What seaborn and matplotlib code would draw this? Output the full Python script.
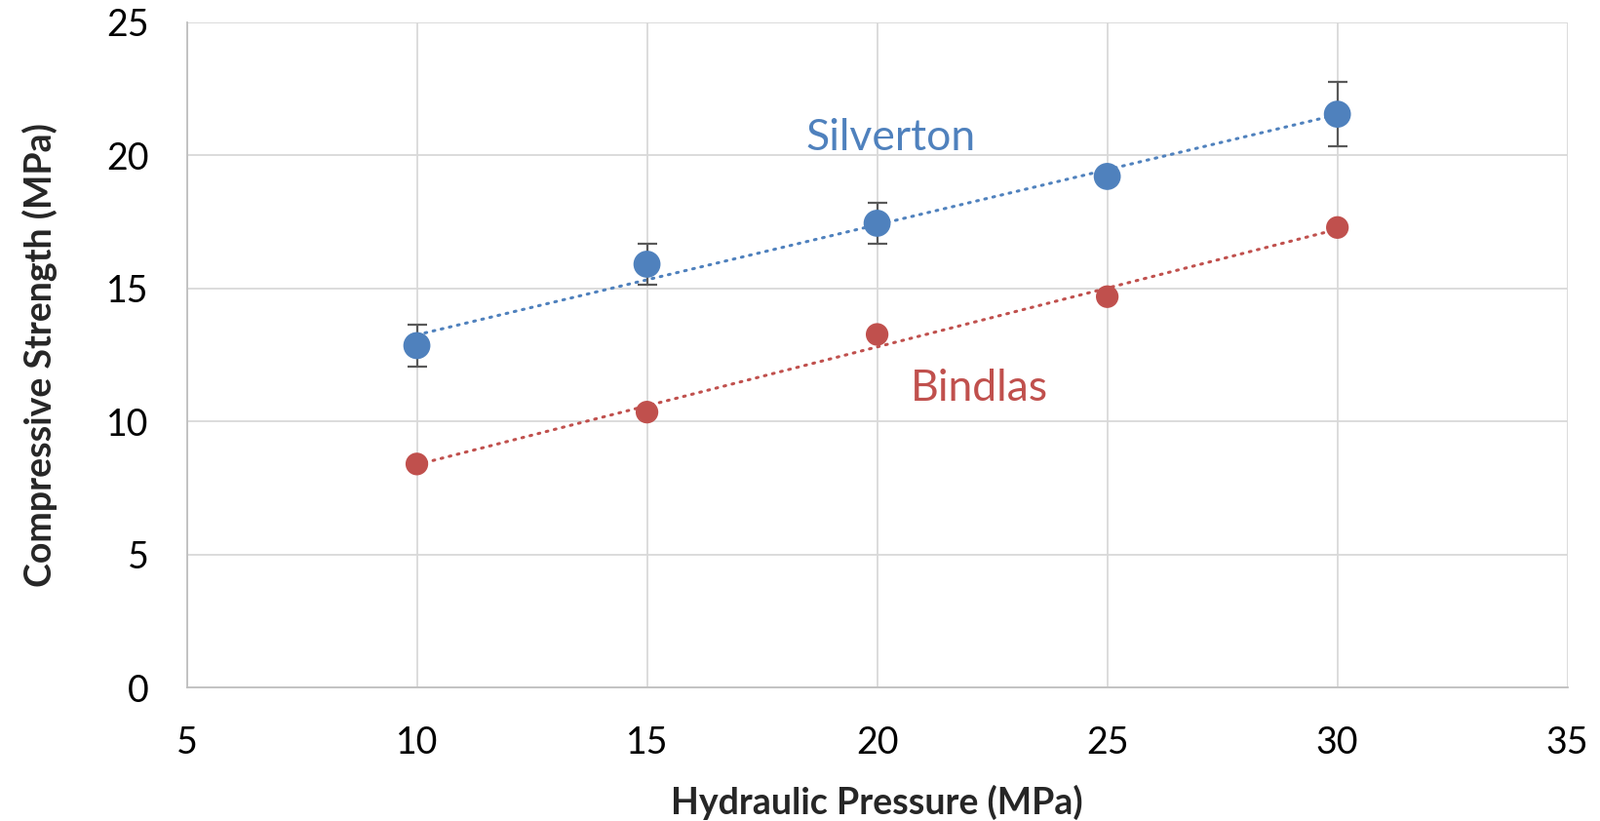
import numpy as np
import pandas as pd
import matplotlib
matplotlib.use("Agg")
import matplotlib.pyplot as plt
import seaborn as sns

pressure = [10, 15, 20, 25, 30]
silverton = [12.85, 15.91, 17.45, 19.21, 21.55]
silverton_err = [0.80, 0.78, 0.78, 0.30, 1.20]
bindlas = [8.40, 10.35, 13.27, 14.69, 17.29]
x_ticks = [5, 10, 15, 20, 25, 30, 35]
y_ticks = [0, 5, 10, 15, 20, 25]

blue = "#4F81BD"
red = "#C0504D"

sns.set_theme(style="white")
plt.rcParams["font.family"] = ["Lato", "DejaVu Sans"]

fig = plt.figure(figsize=(16.41, 8.42), dpi=100)
ax = fig.add_axes([0.1167, 0.1627, 0.863, 0.81])

df_s = pd.DataFrame({"x": pressure, "y": silverton})
df_b = pd.DataFrame({"x": pressure, "y": bindlas})

# trend lines
sns.regplot(data=df_s, x="x", y="y", scatter=False, ci=None, ax=ax,
            line_kws=dict(color=blue, lw=2.2, ls=(0, (0.6, 2.2)), dash_capstyle="round", zorder=2))
sns.regplot(data=df_b, x="x", y="y", scatter=False, ci=None, ax=ax,
            line_kws=dict(color=red, lw=2.2, ls=(0, (0.6, 2.2)), dash_capstyle="round", zorder=2))

# error bars
ax.errorbar(pressure, silverton, yerr=silverton_err, fmt="none", ecolor="#595959",
            elinewidth=1.6, capsize=7, capthick=1.6, zorder=3)

sns.scatterplot(data=df_s, x="x", y="y", ax=ax, color=blue, s=400, edgecolor="none", zorder=4)
sns.scatterplot(data=df_b, x="x", y="y", ax=ax, color=red, s=280, edgecolor="none", zorder=4)

ax.text(20.3, 20.67, "Silverton", color=blue, fontsize=32, ha="center", va="center")
ax.text(22.23, 11.23, "Bindlas", color=red, fontsize=32, ha="center", va="center")

ax.set_xlim(5, 35)
ax.set_ylim(0, 25)
ax.set_xticks(x_ticks)
ax.set_yticks(y_ticks)
ax.grid(True, color="#D9D9D9", lw=1.3)
ax.set_axisbelow(True)
for s in ["top", "right"]:
    ax.spines[s].set_visible(False)
for s in ["left", "bottom"]:
    ax.spines[s].set_color("#BFBFBF")
    ax.spines[s].set_linewidth(1.3)
ax.tick_params(axis="both", length=0, labelsize=27, colors="black")
ax.tick_params(axis="x", pad=28)
ax.tick_params(axis="y", pad=28)

ax.set_xlabel("Hydraulic Pressure (MPa)", fontsize=27, fontweight="bold", labelpad=18)
ax.set_ylabel("Compressive Strength (MPa)", fontsize=27, fontweight="bold", labelpad=36)

fig.savefig("out.png", dpi=100)
